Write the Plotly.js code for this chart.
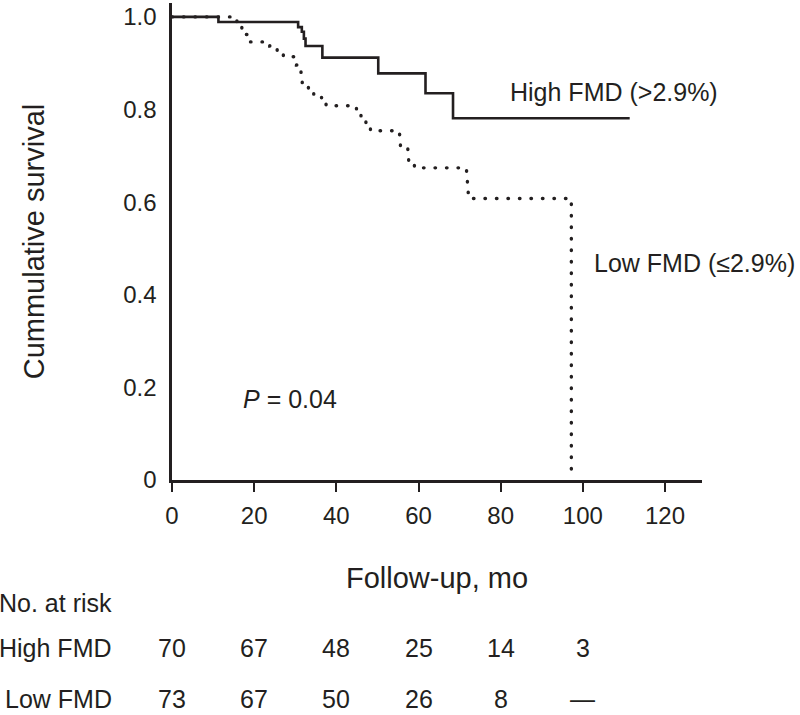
<!DOCTYPE html>
<html>
<head>
<meta charset="utf-8">
<script src="https://cdn.plot.ly/plotly-3.0.1.min.js"></script>
<style>html,body{margin:0;padding:0;background:#fff;}#chart{width:800px;height:715px;}</style>
</head>
<body>
<div id="chart"></div>
<script>
// High FMD (>2.9%) Kaplan-Meier steps
var highTime = [0, 11.3, 30.7, 31.6, 32.1, 32.5, 36.6, 50.2, 61.7, 68.4, 111.4];
var highSurv = [1.0, 0.989, 0.978, 0.968, 0.953, 0.937, 0.912, 0.878, 0.835, 0.781, 0.781];

// Low FMD (<=2.9%) Kaplan-Meier steps
var lowTime = [0, 15.8, 17.0, 18.0, 19.1, 23.8, 25.6, 27.1, 30.3, 31.4, 31.7, 33.2, 34.5, 36.4, 37.5,
               44.9, 46.0, 47.2, 48.3, 55.4, 55.6, 57.4, 57.6, 59.0, 71.7, 71.9, 72.1, 73.3, 97.2];
var lowSurv = [1.0, 0.988, 0.975, 0.962, 0.946, 0.937, 0.928, 0.914, 0.896, 0.879, 0.856, 0.845, 0.829, 0.822, 0.808,
               0.800, 0.783, 0.768, 0.754, 0.743, 0.719, 0.711, 0.687, 0.674, 0.663, 0.639, 0.615, 0.608, 0];

// Number at risk table
var riskTimes = [0, 20, 40, 60, 80, 100];
var highRisk = ['70', '67', '48', '25', '14', '3'];
var lowRisk = ['73', '67', '50', '26', '8', '\u2014'];
var riskRowLabels = ['No. at risk', 'High FMD', 'Low FMD'];

// Axis ticks
var xTicks = [0, 20, 40, 60, 80, 100, 120];
var yTicks = [0, 0.2, 0.4, 0.6, 0.8, 1.0];
var yTickText = ['0', '0.2', '0.4', '0.6', '0.8', '1.0'];

var INK = '#231f20';
var FONT = 'Liberation Sans, Arial, Helvetica, sans-serif';

var traces = [
  {x: highTime, y: highSurv, type: 'scatter', mode: 'lines', name: 'High FMD (>2.9%)',
   line: {shape: 'hv', color: INK, width: 2.6}, cliponaxis: false},
  {x: lowTime, y: lowSurv, type: 'scatter', mode: 'lines', name: 'Low FMD (\u22642.9%)',
   line: {shape: 'hv', color: INK, width: 3.4, dash: '0.5px,11px'}, cliponaxis: false}
];

var annotations = [
  {x: 81.8, y: 0.838, xref: 'x', yref: 'y', text: 'High FMD (>2.9%)', showarrow: false,
   xanchor: 'left', yanchor: 'middle', font: {size: 25, color: INK, family: FONT}},
  {x: 102.3, y: 0.469, xref: 'x', yref: 'y', text: 'Low FMD (\u22642.9%)', showarrow: false,
   xanchor: 'left', yanchor: 'middle', font: {size: 25, color: INK, family: FONT}},
  {x: 16.9, y: 0.175, xref: 'x', yref: 'y', text: '<i>P</i> = 0.04', showarrow: false,
   xanchor: 'left', yanchor: 'middle', font: {size: 25, color: INK, family: FONT}}
];

// risk table rows, placed below the plot area (paper coords; plot area spans 477 px high, 530 px wide)
var plotH = 477, plotW = 530, plotL = 172, plotB = 480;
var rowPx = [603, 648, 699];
var rowY = rowPx.map(function (p) { return -(p - plotB) / plotH; });
var labelX = (114 - plotL) / plotW;
riskRowLabels.forEach(function (lab, i) {
  annotations.push({x: labelX, y: rowY[i], xref: 'paper', yref: 'paper', text: lab, showarrow: false,
    xanchor: 'right', yanchor: 'middle', font: {size: 25, color: INK, family: FONT}});
});
riskTimes.forEach(function (t, i) {
  annotations.push({x: t, y: rowY[1], xref: 'x', yref: 'paper', text: highRisk[i], showarrow: false,
    xanchor: 'center', yanchor: 'middle', font: {size: 25, color: INK, family: FONT}});
  annotations.push({x: t, y: rowY[2], xref: 'x', yref: 'paper', text: lowRisk[i], showarrow: false,
    xanchor: 'center', yanchor: 'middle', font: {size: 25, color: INK, family: FONT}});
});

var layout = {
  width: 800, height: 715,
  margin: {l: 172, r: 98, t: 3, b: 235},
  paper_bgcolor: '#ffffff', plot_bgcolor: '#ffffff',
  showlegend: false,
  font: {family: FONT, color: INK, size: 24},
  xaxis: {
    range: [0, 129], showgrid: false, zeroline: false,
    showline: true, linecolor: INK, linewidth: 2.6,
    ticks: 'outside', ticklen: 9, tickwidth: 2, tickcolor: INK,
    tickvals: xTicks, ticktext: xTicks.map(String),
    tickfont: {size: 24, color: INK, family: FONT},
    ticklabelstandoff: 4,
    title: {text: 'Follow-up, mo', font: {size: 29, color: INK, family: FONT}, standoff: 40},
    automargin: false
  },
  yaxis: {
    range: [0, 1.03], showgrid: false, zeroline: false,
    showline: true, linecolor: INK, linewidth: 2.6,
    ticks: '', tickvals: yTicks, ticktext: yTickText,
    tickfont: {size: 24, color: INK, family: FONT},
    ticklabelstandoff: 8,
    title: {text: 'Cummulative survival', font: {size: 29, color: INK, family: FONT}, standoff: 70},
    automargin: false
  },
  annotations: annotations
};

Plotly.newPlot('chart', traces, layout, {displayModeBar: false, staticPlot: true}).then(function (gd) {
  var paths = gd.querySelectorAll('.scatterlayer .trace:nth-child(2) path.js-line');
  paths.forEach(function (p) { p.style.strokeLinecap = 'round'; });
});
</script>
</body>
</html>
